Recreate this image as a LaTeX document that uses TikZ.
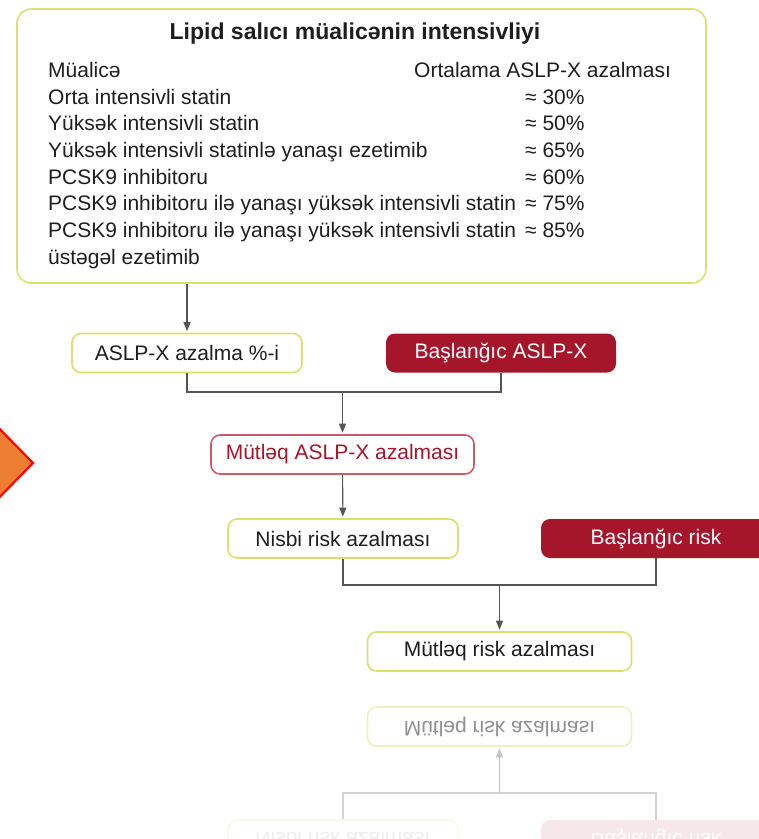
\documentclass[tikz,border=0pt]{standalone}
\usepackage{fontspec}
\setmainfont{Liberation Sans}
\usepackage{xcolor}
\usetikzlibrary{arrows.meta,positioning}
\definecolor{paleyellow}{RGB}{220,222,110}
\definecolor{wine}{RGB}{166,22,43}
\definecolor{rosered}{RGB}{205,90,105}
\definecolor{ink}{RGB}{30,30,30}
\definecolor{linegray}{RGB}{85,85,85}
\definecolor{orangetip}{RGB}{237,125,49}

\begin{document}
\begin{tikzpicture}[x=1pt, y=-1pt,
          font=\fontsize{21}{25}\selectfont,
          link/.style={draw=linegray, line width=1.1pt},
          line/.style={link, -{Triangle[length=9pt, width=7pt]}, shorten >=1.5pt},
          plain/.style={rounded corners=9pt, draw=paleyellow, line width=1.6pt, fill=white, text=ink, minimum width=230pt, minimum height=39pt},
          dark/.style={rounded corners=9pt, fill=wine, text=white, minimum width=230pt, minimum height=39pt},
          redbox/.style={plain, draw=rosered, text=wine, minimum width=263pt},
          row/.style={anchor=base west, inner sep=0pt, text=ink}
        ]
          \clip (0,0) rectangle (759,839);

          % orange marker at the left edge
          \filldraw[fill=orangetip, draw=red, line width=2.2pt] (-12,417) -- (33,463) -- (-12,509) -- cycle;

          % treatment table
          \node[draw=paleyellow, line width=1.6pt, rounded corners=14pt, minimum width=689pt, minimum height=274pt] (frame) at (361.5,146) {};
          \node[font=\fontsize{23}{27}\selectfont\bfseries, text=ink] (title) at (355,34) {Lipid salıcı müalicənin intensivliyi};
          \node[row] (head) at (48,77.5) {Müalicə};
          \node[row] (headval) at (414,77.5) {Ortalama ASLP-X azalması};
          \foreach \drug/\cut [count=\i from 1] in {
              Orta intensivli statin/≈ 30\%,
              Yüksək intensivli statin/≈ 50\%,
              Yüksək intensivli statinlə yanaşı ezetimib/≈ 65\%,
              PCSK9 inhibitoru/≈ 60\%,
              PCSK9 inhibitoru ilə yanaşı yüksək intensivli statin/≈ 75\%,
              PCSK9 inhibitoru ilə yanaşı yüksək intensivli statin/≈ 85\%} {
            \node[row] (drug\i) at (48,{77.5+26.65*\i}) {\drug};
            \node[row] (val\i) at (525,{77.5+26.65*\i}) {\cut};
          }
          \node[row] (drug7) at (48,264) {üstəgəl ezetimib};

          % flow
          \node[plain] (aslp) at (187,353) {ASLP-X azalma \%-i};
          \node[dark, right=83pt of aslp] (base1) {Başlanğıc ASLP-X};
          \node[redbox] (absx) at (342.5,454.5) {Mütləq ASLP-X azalması};
          \node[plain] (rel) at (343,538.5) {Nisbi risk azalması};
          \node[dark] (base2) at (656,538.5) {Başlanğıc risk};
          \node[plain, minimum width=264pt] (abs) at (499.5,651.5) {Mütləq risk azalması};

          \coordinate (j1) at (342.5,392);
          \coordinate (j2) at (499.5,585);
          \draw[line] (frame.south -| aslp) -- (aslp);
          \draw[link] (aslp.south) |- (j1) -| (base1.south);
          \draw[line] (j1) -- (absx);
          \draw[line] (absx) -- (rel);
          \draw[link] (rel.south) |- (j2) -| (base2.south);
          \draw[line] (j2) -- (abs);

          % faded mirror image below
          \begin{scope}[shift={(0,1378)}, yscale=-1, transform shape]
            \node[plain, minimum width=264pt, draw=paleyellow!45, text=ink!50] (absR) at (499.5,651.5) {Mütləq risk azalması};
            \node[plain, draw=paleyellow!15, text=ink!8] (relR) at (343,538.5) {Nisbi risk azalması};
            \node[dark, fill=wine!10, text=white] (base2R) at (656,538.5) {Başlanğıc risk};
            \coordinate (j2R) at (499.5,585);
            \draw[link, draw=linegray!25] (relR.south) |- (j2R) -| (base2R.south);
            \draw[line, draw=linegray!35] (j2R) -- (absR);
          \end{scope}
        \end{tikzpicture}
\end{document}
